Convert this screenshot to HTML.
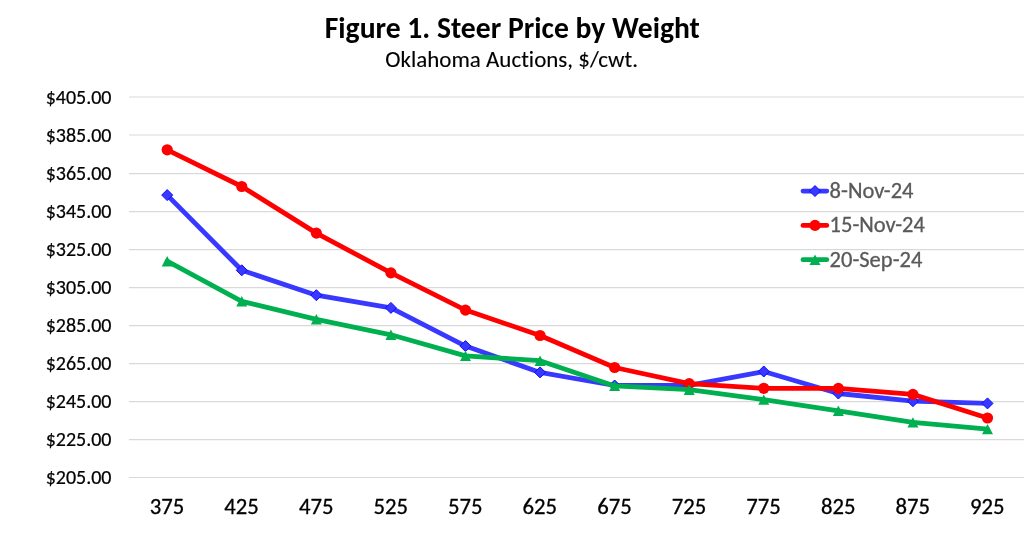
<!DOCTYPE html>
<html><head><meta charset="utf-8"><title>Figure 1. Steer Price by Weight</title>
<style>
html,body{margin:0;padding:0;background:#fff;}
body{width:1024px;height:546px;overflow:hidden;}
svg{display:block;will-change:transform;}
text{font-family:Carlito,"Liberation Sans",sans-serif;font-variant-ligatures:none;font-kerning:normal;}
</style></head><body>
<svg width="1024" height="546" viewBox="0 0 1024 546">
<rect width="1024" height="546" fill="#fff"/>

<g stroke="#d9d9d9" stroke-width="1.1">
<line x1="129" y1="97.05" x2="1024" y2="97.05"/>
<line x1="129" y1="135.00" x2="1024" y2="135.00"/>
<line x1="129" y1="173.60" x2="1024" y2="173.60"/>
<line x1="129" y1="211.60" x2="1024" y2="211.60"/>
<line x1="129" y1="249.60" x2="1024" y2="249.60"/>
<line x1="129" y1="287.60" x2="1024" y2="287.60"/>
<line x1="129" y1="325.60" x2="1024" y2="325.60"/>
<line x1="129" y1="363.60" x2="1024" y2="363.60"/>
<line x1="129" y1="401.60" x2="1024" y2="401.60"/>
<line x1="129" y1="439.60" x2="1024" y2="439.60"/>
<line x1="129" y1="477.50" x2="1024" y2="477.50"/>
</g>
<g font-size="20" fill="#000" stroke="#000" stroke-width="0.22" text-anchor="end">
<text transform="translate(111.5 103.50) scale(1 0.975)" textLength="65.86" lengthAdjust="spacingAndGlyphs">$405.00</text>
<text transform="translate(111.5 141.52) scale(1 0.975)" textLength="65.86" lengthAdjust="spacingAndGlyphs">$385.00</text>
<text transform="translate(111.5 179.54) scale(1 0.975)" textLength="65.86" lengthAdjust="spacingAndGlyphs">$365.00</text>
<text transform="translate(111.5 217.56) scale(1 0.975)" textLength="65.86" lengthAdjust="spacingAndGlyphs">$345.00</text>
<text transform="translate(111.5 255.58) scale(1 0.975)" textLength="65.86" lengthAdjust="spacingAndGlyphs">$325.00</text>
<text transform="translate(111.5 293.60) scale(1 0.975)" textLength="65.86" lengthAdjust="spacingAndGlyphs">$305.00</text>
<text transform="translate(111.5 331.62) scale(1 0.975)" textLength="65.86" lengthAdjust="spacingAndGlyphs">$285.00</text>
<text transform="translate(111.5 369.64) scale(1 0.975)" textLength="65.86" lengthAdjust="spacingAndGlyphs">$265.00</text>
<text transform="translate(111.5 407.66) scale(1 0.975)" textLength="65.86" lengthAdjust="spacingAndGlyphs">$245.00</text>
<text transform="translate(111.5 445.68) scale(1 0.975)" textLength="65.86" lengthAdjust="spacingAndGlyphs">$225.00</text>
<text transform="translate(111.5 483.70) scale(1 0.975)" textLength="65.86" lengthAdjust="spacingAndGlyphs">$205.00</text>
</g>
<g font-size="22.7" fill="#000" stroke="#000" stroke-width="0.3" text-anchor="middle">
<text x="167.00" y="513.7" textLength="34.5" lengthAdjust="spacingAndGlyphs">375</text>
<text x="241.57" y="513.7" textLength="34.5" lengthAdjust="spacingAndGlyphs">425</text>
<text x="316.15" y="513.7" textLength="34.5" lengthAdjust="spacingAndGlyphs">475</text>
<text x="390.72" y="513.7" textLength="34.5" lengthAdjust="spacingAndGlyphs">525</text>
<text x="465.29" y="513.7" textLength="34.5" lengthAdjust="spacingAndGlyphs">575</text>
<text x="539.86" y="513.7" textLength="34.5" lengthAdjust="spacingAndGlyphs">625</text>
<text x="614.44" y="513.7" textLength="34.5" lengthAdjust="spacingAndGlyphs">675</text>
<text x="689.01" y="513.7" textLength="34.5" lengthAdjust="spacingAndGlyphs">725</text>
<text x="763.58" y="513.7" textLength="34.5" lengthAdjust="spacingAndGlyphs">775</text>
<text x="838.16" y="513.7" textLength="34.5" lengthAdjust="spacingAndGlyphs">825</text>
<text x="912.73" y="513.7" textLength="34.5" lengthAdjust="spacingAndGlyphs">875</text>
<text x="987.30" y="513.7" textLength="34.5" lengthAdjust="spacingAndGlyphs">925</text>
</g>
<text x="512.3" y="37.6" font-size="29.5" font-weight="bold" text-anchor="middle" fill="#000" textLength="375.16" lengthAdjust="spacingAndGlyphs">Figure 1. Steer Price by Weight</text>
<text transform="translate(511.7 67.2) scale(1 0.96)" font-size="23" text-anchor="middle" fill="#000" stroke="#000" stroke-width="0.12" textLength="252.74" lengthAdjust="spacingAndGlyphs">Oklahoma Auctions, $/cwt.</text>
<polyline points="167.20,195.10 241.77,270.30 316.35,295.20 390.92,307.90 465.49,346.10 540.06,372.40 614.64,385.50 689.21,385.30 763.78,371.50 838.36,393.50 912.93,401.20 987.50,403.40" fill="none" stroke="#3838ff" stroke-width="4.8" stroke-linejoin="round" stroke-linecap="round"/>
<g fill="#3838ff"><path d="M167.20 189.60L172.70 195.10L167.20 200.60L161.70 195.10Z" stroke="#0c0cff" stroke-width="1"/><path d="M241.77 264.80L247.27 270.30L241.77 275.80L236.27 270.30Z" stroke="#0c0cff" stroke-width="1"/><path d="M316.35 289.70L321.85 295.20L316.35 300.70L310.85 295.20Z" stroke="#0c0cff" stroke-width="1"/><path d="M390.92 302.40L396.42 307.90L390.92 313.40L385.42 307.90Z" stroke="#0c0cff" stroke-width="1"/><path d="M465.49 340.60L470.99 346.10L465.49 351.60L459.99 346.10Z" stroke="#0c0cff" stroke-width="1"/><path d="M540.06 366.90L545.56 372.40L540.06 377.90L534.56 372.40Z" stroke="#0c0cff" stroke-width="1"/><path d="M614.64 380.00L620.14 385.50L614.64 391.00L609.14 385.50Z" stroke="#0c0cff" stroke-width="1"/><path d="M689.21 379.80L694.71 385.30L689.21 390.80L683.71 385.30Z" stroke="#0c0cff" stroke-width="1"/><path d="M763.78 366.00L769.28 371.50L763.78 377.00L758.28 371.50Z" stroke="#0c0cff" stroke-width="1"/><path d="M838.36 388.00L843.86 393.50L838.36 399.00L832.86 393.50Z" stroke="#0c0cff" stroke-width="1"/><path d="M912.93 395.70L918.43 401.20L912.93 406.70L907.43 401.20Z" stroke="#0c0cff" stroke-width="1"/><path d="M987.50 397.90L993.00 403.40L987.50 408.90L982.00 403.40Z" stroke="#0c0cff" stroke-width="1"/></g>
<polyline points="167.20,149.80 241.77,186.50 316.35,233.10 390.92,272.90 465.49,310.10 540.06,335.50 614.64,367.50 689.21,383.60 763.78,388.30 838.36,388.40 912.93,394.40 987.50,418.00" fill="none" stroke="#ff0000" stroke-width="4.8" stroke-linejoin="round" stroke-linecap="round"/>
<g fill="#ff0000"><circle cx="167.20" cy="149.80" r="5.6"/><circle cx="241.77" cy="186.50" r="5.6"/><circle cx="316.35" cy="233.10" r="5.6"/><circle cx="390.92" cy="272.90" r="5.6"/><circle cx="465.49" cy="310.10" r="5.6"/><circle cx="540.06" cy="335.50" r="5.6"/><circle cx="614.64" cy="367.50" r="5.6"/><circle cx="689.21" cy="383.60" r="5.6"/><circle cx="763.78" cy="388.30" r="5.6"/><circle cx="838.36" cy="388.40" r="5.6"/><circle cx="912.93" cy="394.40" r="5.6"/><circle cx="987.50" cy="418.00" r="5.6"/></g>
<polyline points="167.20,261.20 241.77,301.30 316.35,319.30 390.92,334.80 465.49,355.90 540.06,360.70 614.64,385.90 689.21,389.70 763.78,399.60 838.36,410.80 912.93,422.40 987.50,429.10" fill="none" stroke="#00b050" stroke-width="4.8" stroke-linejoin="round" stroke-linecap="round"/>
<g fill="#00b050"><path d="M167.20 256.00L172.70 266.40L161.70 266.40Z"/><path d="M241.77 296.10L247.27 306.50L236.27 306.50Z"/><path d="M316.35 314.10L321.85 324.50L310.85 324.50Z"/><path d="M390.92 329.60L396.42 340.00L385.42 340.00Z"/><path d="M465.49 350.70L470.99 361.10L459.99 361.10Z"/><path d="M540.06 355.50L545.56 365.90L534.56 365.90Z"/><path d="M614.64 380.70L620.14 391.10L609.14 391.10Z"/><path d="M689.21 384.50L694.71 394.90L683.71 394.90Z"/><path d="M763.78 394.40L769.28 404.80L758.28 404.80Z"/><path d="M838.36 405.60L843.86 416.00L832.86 416.00Z"/><path d="M912.93 417.20L918.43 427.60L907.43 427.60Z"/><path d="M987.50 423.90L993.00 434.30L982.00 434.30Z"/></g>
<line x1="803.0" y1="191.05" x2="826.8" y2="191.05" stroke="#3838ff" stroke-width="4.8" stroke-linecap="round"/>
<g fill="#3838ff"><path d="M815.00 185.55L820.50 191.05L815.00 196.55L809.50 191.05Z" stroke="#0c0cff" stroke-width="1"/></g>
<text transform="translate(829.6 197.95) scale(1 0.96)" font-size="22.5" fill="#595959" stroke="#595959" stroke-width="0.3" textLength="83.9" lengthAdjust="spacingAndGlyphs">8-Nov-24</text>
<line x1="803.0" y1="225.38" x2="826.8" y2="225.38" stroke="#ff0000" stroke-width="4.8" stroke-linecap="round"/>
<g fill="#ff0000"><circle cx="815.00" cy="225.38" r="5.6"/></g>
<text transform="translate(829.6 232.28) scale(1 0.96)" font-size="22.5" fill="#595959" stroke="#595959" stroke-width="0.3" textLength="95.31" lengthAdjust="spacingAndGlyphs">15-Nov-24</text>
<line x1="803.0" y1="259.71" x2="826.8" y2="259.71" stroke="#00b050" stroke-width="4.8" stroke-linecap="round"/>
<g fill="#00b050"><path d="M815.00 254.51L820.50 264.91L809.50 264.91Z"/></g>
<text transform="translate(829.6 266.61) scale(1 0.96)" font-size="22.5" fill="#595959" stroke="#595959" stroke-width="0.3" textLength="92.73" lengthAdjust="spacingAndGlyphs">20-Sep-24</text>
</svg>
</body></html>
